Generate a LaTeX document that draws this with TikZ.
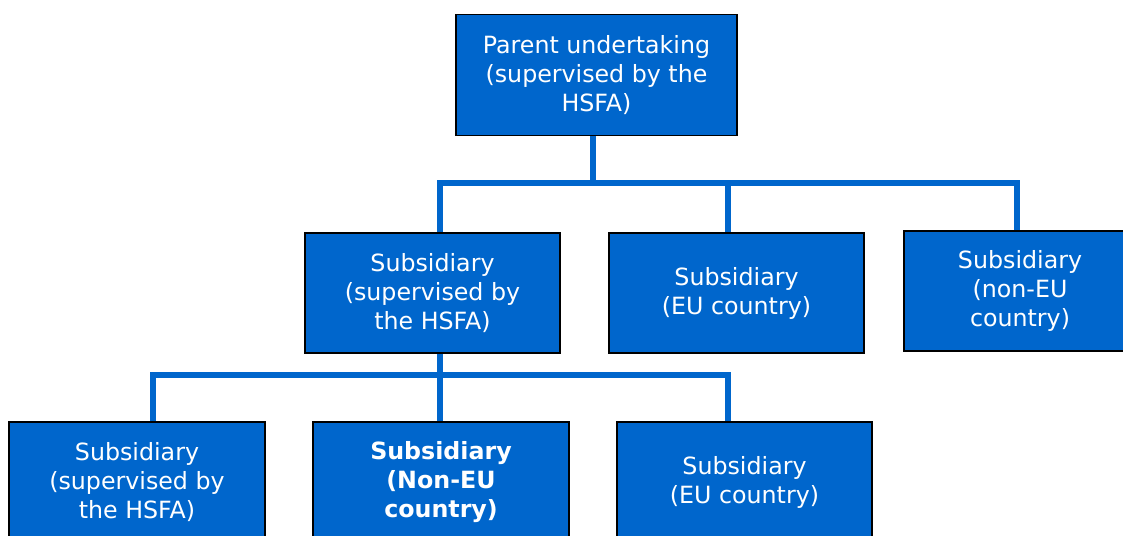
\documentclass[tikz,border=0pt]{standalone}
\usepackage{fontspec}
\setmainfont{DejaVu Sans}
\usetikzlibrary{calc}
\definecolor{boxblue}{RGB}{0,102,204}
\tikzset{
  orgbox/.style={draw=black, line width=1.1pt, fill=boxblue, text=white,
    align=center, inner sep=0pt, minimum height=2.4cm,
    font=\fontsize{13.5}{16.5}\selectfont},
  bus/.style={draw=boxblue, line width=3.4pt, line cap=butt, line join=miter}
}
\begin{document}
\begin{tikzpicture}
    \useasboundingbox (0,0) rectangle (22.46,-10.7);
    \clip (0,0) rectangle (22.46,-10.7);
    \node [orgbox, minimum width=5.62cm, minimum height=2.42cm] (parent) at (11.93,-1.50)
      {Parent undertaking\\(supervised by the\\HSFA)};
    \node [orgbox, minimum width=5.1cm] (subA) at (8.65,-5.86)
      {Subsidiary\\(supervised by\\the HSFA)};
    \node [orgbox, minimum width=5.1cm] (subB) at (14.73,-5.86)
      {Subsidiary\\(EU country)};
    \node [orgbox, minimum width=4.64cm] (subC) at (20.40,-5.82)
      {Subsidiary\\(non-EU\\country)};
    \node [orgbox, minimum width=5.12cm, anchor=north] (subAA) at (2.74,-8.42)
      {Subsidiary\\(supervised by\\the HSFA)};
    \node [orgbox, minimum width=5.12cm, anchor=north] (subAB) at (8.82,-8.42)
      {\bfseries Subsidiary\\\bfseries (Non-EU\\\bfseries country)};
    \node [orgbox, minimum width=5.1cm, anchor=north] (subAC) at (14.89,-8.42)
      {Subsidiary\\(EU country)};
    % upper bus
    \coordinate (upL) at (8.80,-3.66);
    \coordinate (upM) at (11.86,-3.66);
    \coordinate (upB) at (14.56,-3.66);
    \coordinate (upR) at (20.34,-3.66);
    \draw [bus] (parent.south -| upM) -- (upM);
    \draw [bus] (upL |- subA.north) -- (upL) -- (upR) -- (upR |- subC.north);
    \draw [bus] (upB) -- (upB |- subB.north);
    % lower bus
    \coordinate (loL) at (3.06,-7.50);
    \coordinate (loM) at (8.80,-7.50);
    \coordinate (loR) at (14.56,-7.50);
    \draw [bus] (subA.south -| loM) -- (loM |- subAB.north);
    \draw [bus] (loL |- subAA.north) -- (loL) -- (loR) -- (loR |- subAC.north);
\end{tikzpicture}
\end{document}
